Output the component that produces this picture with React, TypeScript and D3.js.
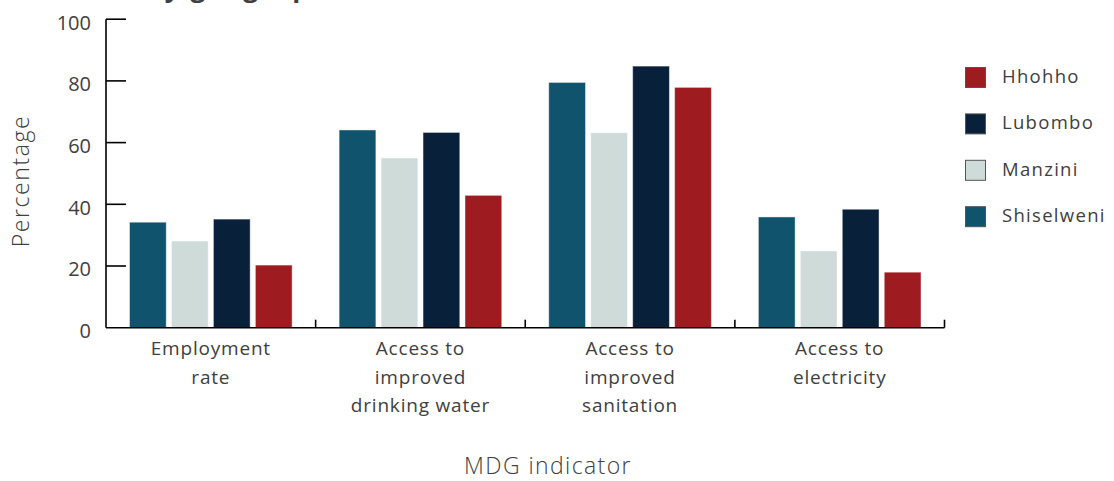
import React from "react";
import * as d3 from "d3";

// MDG indicators (%) by region
const indicators = [
  ["Employment", "rate"],
  ["Access to", "improved", "drinking water"],
  ["Access to", "improved", "sanitation"],
  ["Access to", "electricity"],
];
const regions = ["Shiselweni", "Manzini", "Lubombo", "Hhohho"];
const shiselweni = [34.2, 64.1, 79.5, 35.9];
const manzini = [28.1, 55.0, 63.2, 24.9];
const lubombo = [35.2, 63.3, 84.8, 38.4];
const hhohho = [20.3, 42.9, 77.9, 18.0];
const yTicks = [0, 20, 40, 60, 80, 100];
const legendOrder = ["Hhohho", "Lubombo", "Manzini", "Shiselweni"];

const colors: Record<string, string> = {
  Shiselweni: "#10536d",
  Manzini: "#cfdbd8",
  Lubombo: "#08203a",
  Hhohho: "#9e1b20",
};

const seriesValues: Record<string, number[]> = {
  Shiselweni: shiselweni,
  Manzini: manzini,
  Lubombo: lubombo,
  Hhohho: hhohho,
};

const W = 1114;
const H = 481;
const x0 = 106;
const x1 = 944.5;
const yTop = 19.2;
const yBase = 327.7;
const textColor = "#404040";
const font = "'Open Sans', 'Noto Sans', sans-serif";

export default function App() {
  const keys = indicators.map((d) => d.join(" "));
  const xOuter = d3.scaleBand<string>().domain(keys).range([x0, x1]).padding(0);
  const xInner = d3
    .scaleBand<string>()
    .domain(regions)
    .range([0, xOuter.bandwidth()])
    .paddingInner(0.124)
    .paddingOuter(0.56);
  const y = d3.scaleLinear().domain([0, 100]).range([yBase, yTop]);

  return (
    <svg
      width={W}
      height={H}
      style={{ position: "absolute", left: 0, top: 0, display: "block", background: "#fff" }}
    >
      {/* chart title, sitting mostly above the top edge */}
      <text
        x={146}
        y={-3}
        fontFamily={font}
        fontWeight={700}
        fontSize={26}
        letterSpacing={2.2}
        fill={textColor}
      >
        by geographic area
      </text>

      {/* bars */}
      {keys.map((k, i) => (
        <g key={k} transform={`translate(${xOuter(k)},0)`}>
          {regions.map((r) => {
            const v = seriesValues[r][i];
            return (
              <rect
                key={r}
                x={xInner(r)}
                y={y(v)}
                width={xInner.bandwidth()}
                height={yBase - y(v)}
                fill={colors[r]}
                stroke="#ffffff"
                strokeOpacity={0.45}
                strokeWidth={1}
              />
            );
          })}
        </g>
      ))}

      {/* y axis */}
      <line x1={x0} x2={x0} y1={y(100)} y2={yBase} stroke="#000" strokeWidth={1.6} />
      {yTicks.map((t) => (
        <g key={t}>
          {t > 0 && (
            <line x1={x0} x2={x0 + 20} y1={y(t)} y2={y(t)} stroke="#000" strokeWidth={1.6} />
          )}
          <text
            x={91}
            y={y(t) + 5}
            textAnchor="end"
            dominantBaseline="middle"
            fontFamily={font}
            fontSize={20}
            fill={textColor}
          >
            {t}
          </text>
        </g>
      ))}

      {/* x axis */}
      <line x1={x0} x2={x1} y1={yBase} y2={yBase} stroke="#000" strokeWidth={1.6} />
      {keys.map((k) => {
        const xr = (xOuter(k) as number) + xOuter.bandwidth();
        return (
          <line key={k} x1={xr} x2={xr} y1={yBase} y2={yBase - 8} stroke="#000" strokeWidth={1.6} />
        );
      })}
      {indicators.map((lines, i) => {
        const cx = (xOuter(keys[i]) as number) + xOuter.bandwidth() / 2;
        return (
          <text
            key={keys[i]}
            textAnchor="middle"
            fontFamily={font}
            fontSize={19}
            letterSpacing={0.8}
            fill={textColor}
          >
            {lines.map((l, j) => (
              <tspan key={j} x={cx} y={355 + j * 28.5}>
                {l}
              </tspan>
            ))}
          </text>
        );
      })}

      {/* axis titles */}
      <text
        x={548}
        y={474}
        textAnchor="middle"
        fontFamily={font}
        fontWeight={300}
        fontSize={23}
        letterSpacing={1.4}
        fill={textColor}
      >
        MDG indicator
      </text>
      <text
        transform={`translate(29,181) rotate(-90)`}
        textAnchor="middle"
        fontFamily={font}
        fontWeight={300}
        fontSize={23}
        letterSpacing={1.6}
        fill={textColor}
      >
        Percentage
      </text>

      {/* legend */}
      {legendOrder.map((r, i) => {
        const ly = 67 + i * 46.4;
        return (
          <g key={r}>
            <rect
              x={965.5}
              y={ly + 0.5}
              width={20}
              height={20}
              fill={colors[r]}
              stroke="#555"
              strokeWidth={1}
            />
            <text
              x={1002}
              y={ly + 11}
              dominantBaseline="middle"
              fontFamily={font}
              fontSize={18.5}
              letterSpacing={1.3}
              fill={textColor}
            >
              {r}
            </text>
          </g>
        );
      })}
    </svg>
  );
}
